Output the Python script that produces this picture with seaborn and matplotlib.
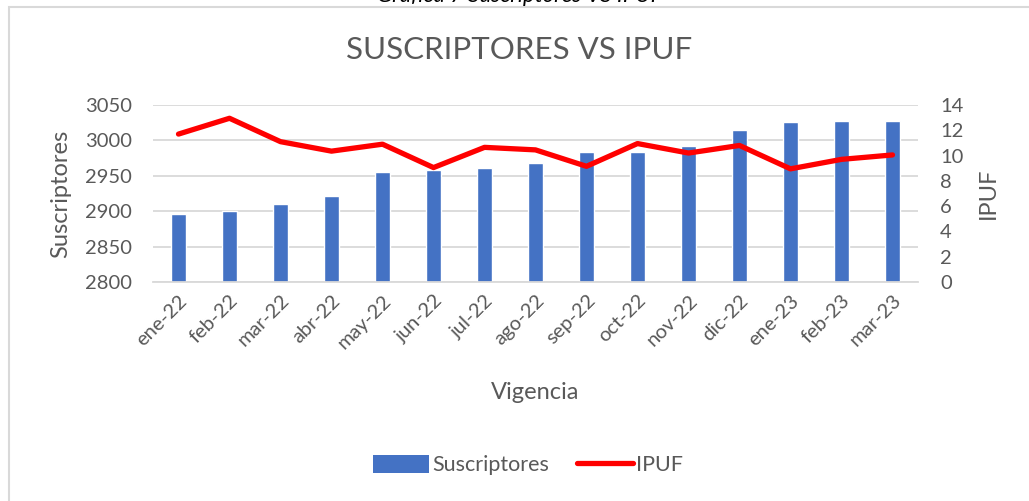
import pandas as pd
import seaborn as sns
import matplotlib.pyplot as plt
from matplotlib.patches import Patch, Rectangle
from matplotlib.lines import Line2D

# data
meses = ["ene-22", "feb-22", "mar-22", "abr-22", "may-22", "jun-22", "jul-22",
         "ago-22", "sep-22", "oct-22", "nov-22", "dic-22", "ene-23", "feb-23",
         "mar-23"]
suscriptores = [2896, 2900, 2910, 2921, 2956, 2958, 2961, 2968, 2983, 2984,
                2992, 3014, 3026, 3027, 3027]
ipuf = [11.7, 12.95, 11.1, 10.35, 10.9, 9.05, 10.65, 10.45, 9.15, 10.95,
        10.2, 10.8, 8.95, 9.7, 10.05]

df = pd.DataFrame({"Vigencia": meses, "Suscriptores": suscriptores, "IPUF": ipuf})

sns.set_style("white")
plt.rcParams["font.family"] = ["Lato", "DejaVu Sans"]

gris = "#595959"
rejilla = "#D9D9D9"

fig = plt.figure(figsize=(10.29, 5.01), dpi=100)
ax = fig.add_axes([153 / 1029, 1 - 282 / 501, 765 / 1029, 177 / 501])

sns.barplot(data=df, x="Vigencia", y="Suscriptores", color="#4472C4",
            width=0.31, saturation=1, ax=ax, zorder=2)
ax.set_ylim(2800, 3050)
ax.set_yticks(range(2800, 3051, 50))
ax.set_xlim(-0.5, len(meses) - 0.5)
ax.yaxis.grid(True, color=rejilla, linewidth=1.3, zorder=0)
ax.set_axisbelow(True)
for s in ["top", "left", "right"]:
    ax.spines[s].set_visible(False)
ax.spines["bottom"].set_color(rejilla)
ax.spines["bottom"].set_linewidth(1.3)

# tick marks at the category boundaries, labels at the centres
ax.set_xticks([i - 0.5 for i in range(len(meses) + 1)], minor=True)
ax.tick_params(axis="x", which="minor", length=6, width=1.3, color=rejilla,
               direction="out")
ax.tick_params(axis="x", which="major", length=0, pad=7)
ax.set_xticks(range(len(meses)))
ax.set_xticklabels(meses, rotation=45, ha="right", rotation_mode="anchor",
                   fontsize=14.5, color=gris)
ax.tick_params(axis="y", length=0, pad=15, labelsize=14.5, labelcolor=gris)
ax.set_xlabel("Vigencia", fontsize=17, color=gris, labelpad=22)
ax.set_ylabel("Suscriptores", fontsize=17, color=gris, labelpad=10)

ax2 = ax.twinx()
sns.lineplot(data=df, x="Vigencia", y="IPUF", color="#FF0000", linewidth=3.8,
             sort=False, ax=ax2, solid_capstyle="round", solid_joinstyle="round")
ax2.set_ylim(0, 14)
ax2.set_yticks(range(0, 15, 2))
ax2.set_xlim(-0.5, len(meses) - 0.5)
for s in ax2.spines.values():
    s.set_visible(False)
ax2.tick_params(axis="y", length=0, pad=16, labelsize=14.5, labelcolor=gris)
ax2.set_ylabel("IPUF", fontsize=17, color=gris, labelpad=10)
ax2.set_xlabel("")

fig.text(519 / 1029, 1 - 50 / 501, "SUSCRIPTORES VS IPUF", ha="center",
         va="center", fontsize=22.5, color=gris)

# caption cut off by the top edge of the picture
fig.text(520 / 1029, 1 - 1.5 / 501, "Gráfica 7 Suscriptores VS IPUF",
         ha="center", va="baseline", fontsize=16, style="italic", color="black")

# chart frame (only left and top edges visible)
fig.patches.append(Rectangle((9 / 1029, -0.2), 1.2, 1.2 - 6.5 / 501,
                             transform=fig.transFigure, fill=False,
                             edgecolor=rejilla, linewidth=1.5))

handles = [Patch(facecolor="#4472C4", edgecolor="none"),
           Line2D([], [], color="#FF0000", linewidth=3.8, solid_capstyle="round")]
fig.legend(handles, ["Suscriptores", "IPUF"], loc="center",
           bbox_to_anchor=(528 / 1029, 1 - 465 / 501), ncol=2, frameon=False,
           fontsize=15.5, labelcolor=gris, handlelength=2.6, handleheight=0.9,
           handletextpad=0.15, columnspacing=1.3)

fig.savefig("out.png", dpi=100)
